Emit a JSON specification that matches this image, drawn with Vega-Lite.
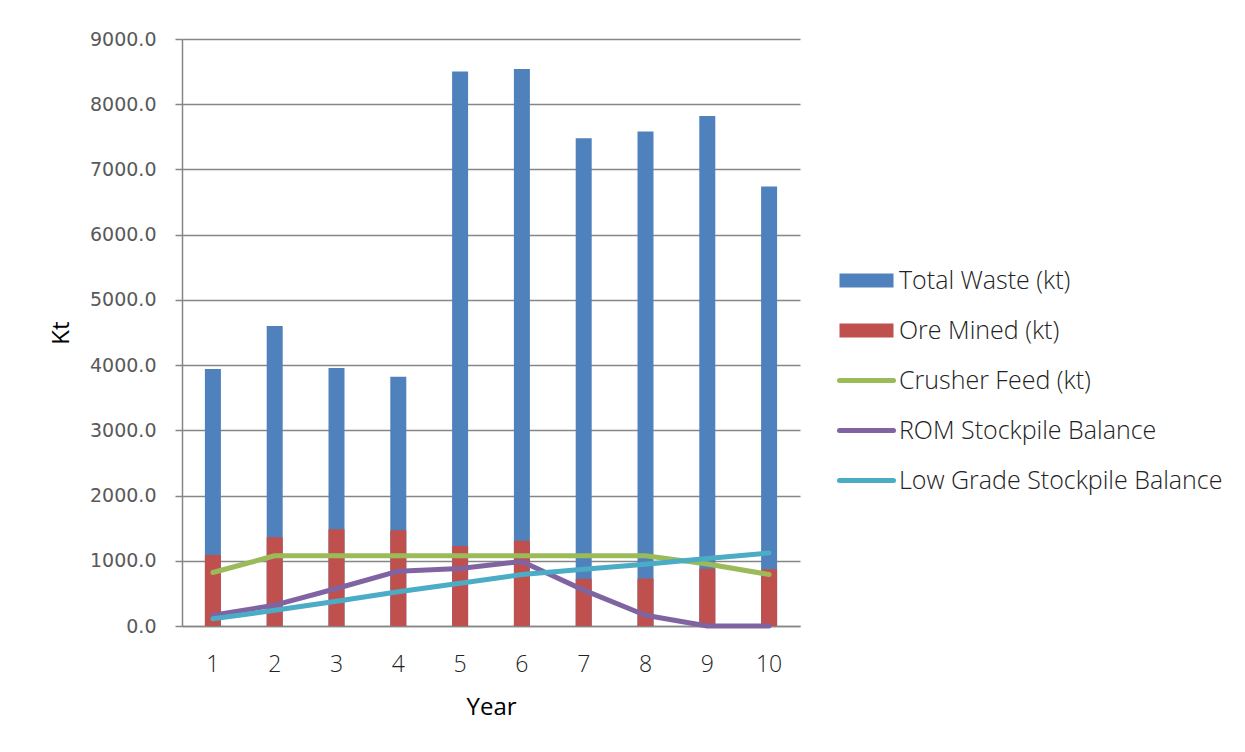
{
  "$schema": "https://vega.github.io/schema/vega-lite/v6.json",
  "autosize": "none",
  "width": 618,
  "height": 587,
  "padding": {"left": 182, "top": 39, "right": 445, "bottom": 126},
  "background": "white",
  "config": {
    "view": {"stroke": null},
    "axis": {"gridColor": "#868686", "gridWidth": 1.5, "domainColor": "#868686", "domainWidth": 1.5, "tickColor": "#868686", "tickWidth": 1.5}
  },
  "data": {
    "values": [
      {"year": "1", "series": "Total Waste (kt)", "kt": 3940},
      {"year": "2", "series": "Total Waste (kt)", "kt": 4600},
      {"year": "3", "series": "Total Waste (kt)", "kt": 3955},
      {"year": "4", "series": "Total Waste (kt)", "kt": 3820},
      {"year": "5", "series": "Total Waste (kt)", "kt": 8500},
      {"year": "6", "series": "Total Waste (kt)", "kt": 8540},
      {"year": "7", "series": "Total Waste (kt)", "kt": 7480},
      {"year": "8", "series": "Total Waste (kt)", "kt": 7580},
      {"year": "9", "series": "Total Waste (kt)", "kt": 7820},
      {"year": "10", "series": "Total Waste (kt)", "kt": 6740},
      {"year": "1", "series": "Ore Mined (kt)", "kt": 1087},
      {"year": "2", "series": "Ore Mined (kt)", "kt": 1359},
      {"year": "3", "series": "Ore Mined (kt)", "kt": 1482},
      {"year": "4", "series": "Ore Mined (kt)", "kt": 1467},
      {"year": "5", "series": "Ore Mined (kt)", "kt": 1226},
      {"year": "6", "series": "Ore Mined (kt)", "kt": 1308},
      {"year": "7", "series": "Ore Mined (kt)", "kt": 723},
      {"year": "8", "series": "Ore Mined (kt)", "kt": 728},
      {"year": "9", "series": "Ore Mined (kt)", "kt": 877},
      {"year": "10", "series": "Ore Mined (kt)", "kt": 872},
      {"year": "1", "series": "Crusher Feed (kt)", "kt": 820},
      {"year": "2", "series": "Crusher Feed (kt)", "kt": 1077},
      {"year": "3", "series": "Crusher Feed (kt)", "kt": 1077},
      {"year": "4", "series": "Crusher Feed (kt)", "kt": 1077},
      {"year": "5", "series": "Crusher Feed (kt)", "kt": 1077},
      {"year": "6", "series": "Crusher Feed (kt)", "kt": 1077},
      {"year": "7", "series": "Crusher Feed (kt)", "kt": 1077},
      {"year": "8", "series": "Crusher Feed (kt)", "kt": 1077},
      {"year": "9", "series": "Crusher Feed (kt)", "kt": 950},
      {"year": "10", "series": "Crusher Feed (kt)", "kt": 790},
      {"year": "1", "series": "ROM Stockpile Balance", "kt": 165},
      {"year": "2", "series": "ROM Stockpile Balance", "kt": 320},
      {"year": "3", "series": "ROM Stockpile Balance", "kt": 575},
      {"year": "4", "series": "ROM Stockpile Balance", "kt": 840},
      {"year": "5", "series": "ROM Stockpile Balance", "kt": 880},
      {"year": "6", "series": "ROM Stockpile Balance", "kt": 990},
      {"year": "7", "series": "ROM Stockpile Balance", "kt": 550},
      {"year": "8", "series": "ROM Stockpile Balance", "kt": 165},
      {"year": "9", "series": "ROM Stockpile Balance", "kt": 0},
      {"year": "10", "series": "ROM Stockpile Balance", "kt": 0},
      {"year": "1", "series": "Low Grade Stockpile Balance", "kt": 110},
      {"year": "2", "series": "Low Grade Stockpile Balance", "kt": 240},
      {"year": "3", "series": "Low Grade Stockpile Balance", "kt": 380},
      {"year": "4", "series": "Low Grade Stockpile Balance", "kt": 525},
      {"year": "5", "series": "Low Grade Stockpile Balance", "kt": 655},
      {"year": "6", "series": "Low Grade Stockpile Balance", "kt": 790},
      {"year": "7", "series": "Low Grade Stockpile Balance", "kt": 870},
      {"year": "8", "series": "Low Grade Stockpile Balance", "kt": 945},
      {"year": "9", "series": "Low Grade Stockpile Balance", "kt": 1035},
      {"year": "10", "series": "Low Grade Stockpile Balance", "kt": 1120}
    ]
  },
  "encoding": {
    "x": {
      "field": "year", "type": "ordinal", "sort": null,
      "scale": {"type": "band", "paddingInner": 0, "paddingOuter": 0},
      "axis": {
        "title": "Year", "labelAngle": 0, "ticks": false, "grid": false,
        "labelFont": "Open Sans", "labelFontWeight": 300, "labelFontSize": 23, "labelColor": "#222222",
        "labelPadding": 27,
        "titleFont": "Open Sans", "titleFontWeight": "normal", "titleFontSize": 24, "titleColor": "#000000",
        "titlePadding": 19
      }
    },
    "y": {
      "field": "kt", "type": "quantitative",
      "scale": {"domain": [0, 9000], "nice": false},
      "axis": {
        "title": "Kt", "values": [0, 1000, 2000, 3000, 4000, 5000, 6000, 7000, 8000, 9000],
        "format": ".1f", "tickSize": 7, "grid": true,
        "labelFont": "DejaVu Sans", "labelFontWeight": "normal", "labelFontSize": 19, "labelColor": "#595959", "labelPadding": 19,
        "titleFont": "Open Sans", "titleFontWeight": "normal", "titleFontSize": 24, "titleColor": "#000000",
        "titlePadding": 16
      }
    },
    "color": {
      "field": "series", "type": "nominal",
      "scale": {
        "domain": ["Total Waste (kt)", "Ore Mined (kt)", "Crusher Feed (kt)", "ROM Stockpile Balance", "Low Grade Stockpile Balance"],
        "range": ["#4F81BD", "#C0504D", "#9BBB59", "#8064A2", "#4BACC6"]
      },
      "legend": {
        "orient": "none", "legendX": 672, "legendY": 229, "title": null,
        "labelFont": "Open Sans", "labelFontWeight": 300, "labelFontSize": 25, "labelColor": "#222222",
        "labelLimit": 500, "labelOffset": 20, "rowPadding": 24,
        "symbolSize": 729,
        "encode": {
          "symbols": {
            "update": {
              "shape": {"signal": "indexof(['Total Waste (kt)', 'Ore Mined (kt)'], datum.value) >= 0 ? 'M-2,-0.52H2V0.52H-2Z' : 'M-2,0H2'"},
              "fill": {"signal": "indexof(['Total Waste (kt)', 'Ore Mined (kt)'], datum.value) >= 0 ? scale('color', datum.value) : 'transparent'"},
              "stroke": {"signal": "indexof(['Total Waste (kt)', 'Ore Mined (kt)'], datum.value) >= 0 ? 'transparent' : scale('color', datum.value)"},
              "strokeWidth": {"signal": "indexof(['Total Waste (kt)', 'Ore Mined (kt)'], datum.value) >= 0 ? 0 : 5"},
              "strokeCap": {"value": "round"},
              "opacity": {"value": 1}
            }
          }
        }
      }
    }
  },
  "layer": [
    {
      "transform": [{"filter": "indexof(['Total Waste (kt)', 'Ore Mined (kt)'], datum.series) >= 0"}],
      "mark": {"type": "bar", "size": 16, "stroke": null},
      "encoding": {"y": {"field": "kt", "type": "quantitative", "stack": null}}
    },
    {
      "transform": [{"filter": "indexof(['Total Waste (kt)', 'Ore Mined (kt)'], datum.series) < 0"}],
      "mark": {"type": "line", "strokeWidth": 5, "strokeCap": "round", "strokeJoin": "round"},
      "encoding": {}
    }
  ]
}
